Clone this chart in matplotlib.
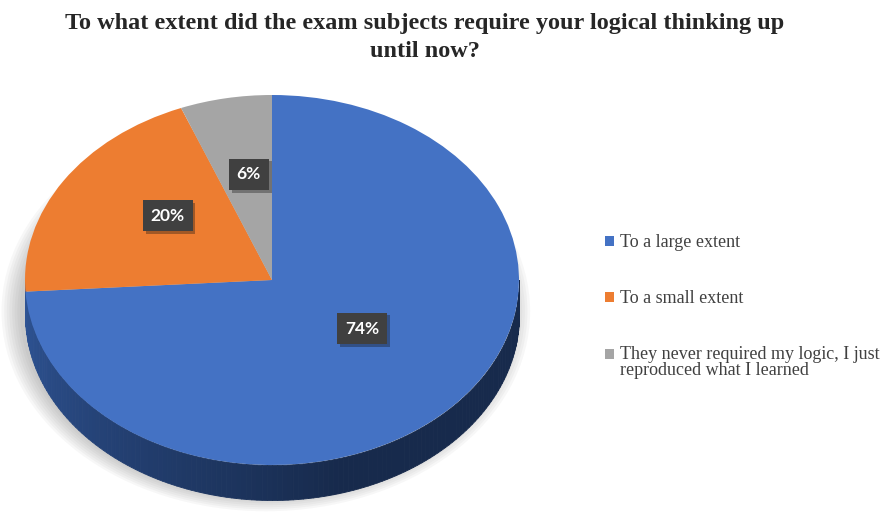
import numpy as np
import matplotlib.pyplot as plt
import matplotlib.patheffects as pe
from matplotlib.patches import Ellipse
from matplotlib.colors import to_rgb

title = 'To what extent did the exam subjects require your logical thinking up\nuntil now?'
labels = ['To a large extent',
          'To a small extent',
          'They never required my logic, I just\nreproduced what I learned']
shares = [74, 20, 6]
colors = ['#4472C4', '#ED7D31', '#A5A5A5']

W, H = 886, 516
fig = plt.figure(figsize=(W / 100, H / 100), dpi=100)
fig.patch.set_facecolor('white')

# pie geometry in pixels: top face ellipse centre, radii, side depth
cx, cy, rx, ry, depth = 272, 280, 247, 185, 35
d = depth / ry
ax = fig.add_axes([(cx - rx) / W, (H - (cy + ry + depth)) / H, 2 * rx / W, (2 * ry + depth) / H])

wedges, _, autotexts = ax.pie(shares, colors=colors, startangle=90, counterclock=False,
                              autopct=lambda p: f'{p:.0f}%', pctdistance=0.5,
                              wedgeprops=dict(linewidth=0), radius=1)
for w in wedges:
    w.set_zorder(2)
ax.set_aspect('auto')
ax.set_xlim(-1, 1)
ax.set_ylim(-1 - d, 1)
ax.axis('off')

# soft shadow under the pie
for s in np.linspace(1.0, 0.93, 8):
    e = Ellipse((-0.025, -0.17), 2 * 1.07 * s, 2 * 1.08 * s, facecolor='#7a7a7a',
                edgecolor='none', alpha=0.06, zorder=0, clip_on=False)
    ax.add_patch(e)

# side of the 3D pie (front half), darker to the right
phi = np.linspace(np.pi, 2 * np.pi, 151)
c0, c1 = np.array(to_rgb('#2f5597')), np.array(to_rgb('#172a4c'))
for i in range(len(phi) - 1):
    seg = phi[i:i + 2]
    t = min(1.0, 1.7 * i / (len(phi) - 2))
    col = c0 + (c1 - c0) * t
    ax.fill_between(np.cos(seg), np.sin(seg), np.sin(seg) - d, color=col,
                    edgecolor=col, lw=0.6, zorder=1)

for t in autotexts:
    x, y = t.get_position()
    t.set_position((x, y + 0.08))
    t.set_color('white')
    t.set_fontweight('bold')
    t.set_fontfamily('Lato')
    t.set_fontsize(12.5)
    t.set_zorder(5)
    t.set_bbox(dict(boxstyle='square,pad=0.45', facecolor='#404040', edgecolor='none'))
    t.get_bbox_patch().set_path_effects([pe.SimplePatchShadow(offset=(2, -2), alpha=0.35), pe.Normal()])

fig.text(425 / W, 1 - 13 / H, title, ha='center', va='top', family='Liberation Serif',
         fontweight='bold', fontsize=17.5, color='#262626', linespacing=1.42)

leg = fig.legend(wedges, labels, loc='upper left', bbox_to_anchor=(589 / W, 1 - 218 / H),
                 frameon=False, prop=dict(family='Liberation Serif', size=13),
                 handlelength=0.5, handleheight=0.5, handletextpad=0.3, labelspacing=2.15)
for t in leg.get_texts():
    t.set_color('#404040')
    t.set_linespacing(0.95)
# keep the last marker level with the first line of its two-line label
h = leg.legend_handles[2]
h.set_y(h.get_y() + 6.1)

fig.savefig('out.png', dpi=100)
